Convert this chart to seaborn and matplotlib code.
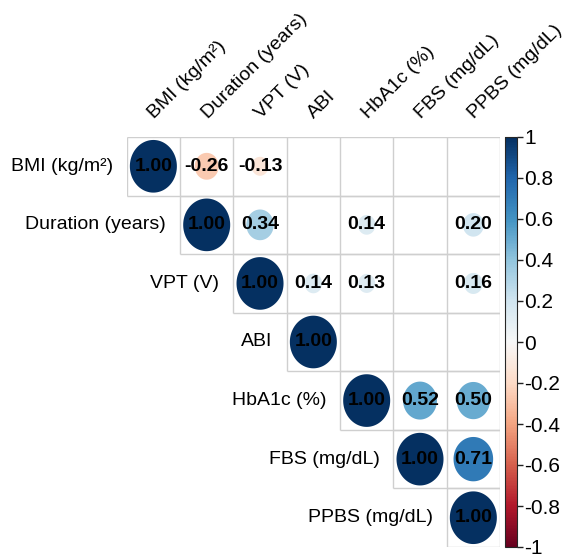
import matplotlib
matplotlib.use("Agg")
import matplotlib.pyplot as plt
import numpy as np
import pandas as pd
import seaborn as sns
from matplotlib.path import Path
from matplotlib.colors import Normalize
from matplotlib.cm import ScalarMappable

variables = ["BMI (kg/m²)", "Duration (years)", "VPT (V)", "ABI",
             "HbA1c (%)", "FBS (mg/dL)", "PPBS (mg/dL)"]

# upper triangle rows, None = blank (not shown)
row_bmi = [1.00, -0.26, -0.13, None, None, None, None]
row_duration = [1.00, 0.34, None, 0.14, None, 0.20]
row_vpt = [1.00, 0.14, 0.13, None, 0.16]
row_abi = [1.00, None, None, None]
row_hba1c = [1.00, 0.52, 0.50]
row_fbs = [1.00, 0.71]
row_ppbs = [1.00]

rows = [row_bmi, row_duration, row_vpt, row_abi, row_hba1c, row_fbs, row_ppbs]
cbar_ticks = [1, 0.8, 0.6, 0.4, 0.2, 0, -0.2, -0.4, -0.6, -0.8, -1]

records = []
for i, row in enumerate(rows):
    for k, r in enumerate(row):
        if r is not None:
            records.append({"row": i, "col": i + k, "r": r, "absr": abs(r)})
df = pd.DataFrame(records)

sns.set_style("white")
plt.rcParams["font.family"] = ["Liberation Sans", "DejaVu Sans"]
plt.rcParams["text.color"] = "black"
plt.rcParams["ytick.color"] = "black"

n = len(variables)
W, H = 568, 558
fig = plt.figure(figsize=(W / 100, H / 100), dpi=100)
ax = fig.add_axes([126.7 / W, (H - 547) / H, (500 - 126.7) / W, (547 - 137) / H])

# slightly tall ellipse marker (cells are taller than wide)
t = np.linspace(0, 2 * np.pi, 100)
verts = np.column_stack([np.cos(t), 1.12 * np.sin(t)])
ell = Path(verts, closed=True)

sns.scatterplot(data=df, x="col", y="row", hue="r", palette="RdBu",
                hue_norm=(-1, 1), size="absr", sizes=(0, 1437),
                size_norm=(0, 1), marker=ell, linewidth=0,
                edgecolor="none", legend=False, ax=ax, zorder=3)

for _, d in df.iterrows():
    ax.text(d["col"], d["row"], f"{d['r']:.2f}", ha="center", va="center",
            fontsize=14, fontweight="bold", color="black", zorder=4)

# grid of upper triangle cells
gc = "#cfcfcf"
for i in range(n):
    ax.hlines(i - 0.5, i - 0.5, n - 0.5, color=gc, lw=1, zorder=1)
    ax.hlines(i + 0.5, i - 0.5, n - 0.5, color=gc, lw=1, zorder=1)
    ax.vlines(i - 0.5, -0.5, i + 0.5, color=gc, lw=1, zorder=1)
ax.vlines(n - 0.5, -0.5, n - 0.5, color=gc, lw=1, zorder=1)

# row labels left of diagonal, column labels on top
for i, lab in enumerate(variables):
    ax.text(i - 0.76, i, lab, ha="right", va="center", fontsize=14,
            color="black")
    ax.text(i + 0.02, -0.8, lab, ha="left", va="baseline", rotation=45,
            rotation_mode="anchor", fontsize=14, color="black")

ax.set_xlim(-0.5, n - 0.5)
ax.set_ylim(n - 0.5, -0.5)
ax.set_xlabel("")
ax.set_ylabel("")
ax.set_xticks([])
ax.set_yticks([])
for s in ax.spines.values():
    s.set_visible(False)
ax.patch.set_alpha(0)

cax = fig.add_axes([505 / W, (H - 547) / H, 12 / W, (547 - 137) / H])
sm = ScalarMappable(norm=Normalize(-1, 1), cmap="RdBu")
cb = fig.colorbar(sm, cax=cax, ticks=cbar_ticks)
cb.ax.set_yticklabels([f"{v:g}" for v in cbar_ticks], fontsize=15,
                      color="black")
cb.ax.tick_params(length=4, width=1, color="#222222", pad=1)
cb.outline.set_linewidth(0.8)

fig.savefig("out.png", dpi=100)
